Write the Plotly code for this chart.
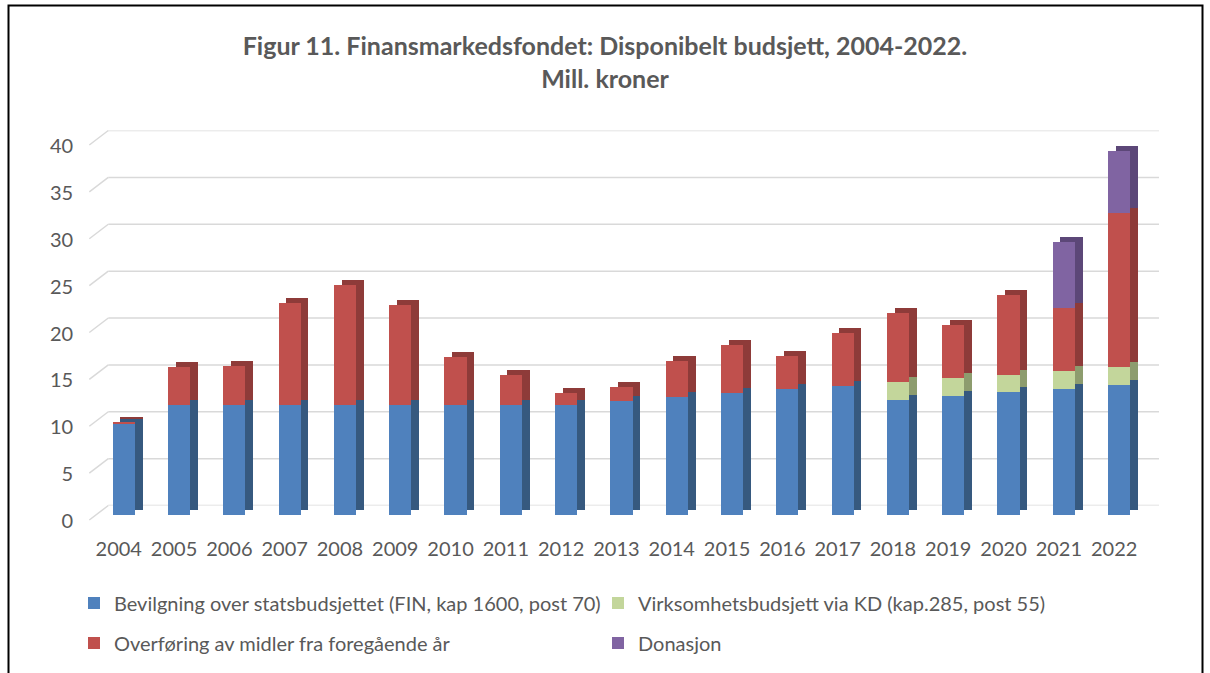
import plotly.graph_objects as go

# ---------------- data ----------------
years = ["2004", "2005", "2006", "2007", "2008", "2009", "2010", "2011", "2012", "2013",
         "2014", "2015", "2016", "2017", "2018", "2019", "2020", "2021", "2022"]

bevilgning = [9.8, 11.7, 11.7, 11.7, 11.7, 11.7, 11.7, 11.7, 11.7, 12.2,
              12.6, 13.0, 13.4, 13.8, 12.3, 12.7, 13.1, 13.4, 13.9]
virksomhet = [0, 0, 0, 0, 0, 0, 0, 0, 0, 0,
              0, 0, 0, 0, 1.9, 1.9, 1.85, 1.95, 1.9]
overforing = [0.15, 4.1, 4.2, 10.9, 12.8, 10.7, 5.2, 3.2, 1.3, 1.5,
              3.85, 5.1, 3.6, 5.6, 7.3, 5.7, 8.5, 6.75, 16.4]
donasjon = [0, 0, 0, 0, 0, 0, 0, 0, 0, 0,
            0, 0, 0, 0, 0, 0, 0, 7.0, 6.6]

names = ["Bevilgning over statsbudsjettet (FIN, kap 1600, post 70)",
         "Virksomhetsbudsjett via KD (kap.285, post 55)",
         "Overføring av midler fra foregående år",
         "Donasjon"]
y_ticks = [0, 5, 10, 15, 20, 25, 30, 35, 40]

# ---------------- style ----------------
front_colors = ["#4F81BD", "#C3D69B", "#C0504D", "#8064A2"]
side_colors = ["#36597F", "#8D9C6E", "#8E3B39", "#5C4778"]
legend_ids = ["legend", "legend", "legend2", "legend2"]

W, H = 1210, 673
FONT = "Lato"
TXT = "#595959"
GRID = "#D9D9D9"
PPU = 9.375          # pixels per unit (value)
YMAX = 40


def px_x(p):
    return p / W


def px_y(p):
    return (H - p) / H


def ydom(zero_px):
    return [px_y(zero_px), px_y(zero_px - YMAX * PPU)]


# geometry (pixels) of the pseudo-3D layers
WALL_X, WALL_Y0 = (108.3, 1159.0), 505.5
BACK_X, BACK_Y0 = (103.8, 1154.5), 510.0
FRONT_X, FRONT_Y0 = (96.1, 1146.8), 515.0
FLOOR_X, FLOOR_Y0 = 89.3, 520.0

fig = go.Figure()

series = [bevilgning, virksomhet, overforing, donasjon]

# back copies (side / top faces)
for vals, col in zip(series, side_colors):
    fig.add_trace(go.Bar(x=years, y=vals, xaxis="x2", yaxis="y2", width=0.4,
                         marker=dict(color=col, line=dict(width=0)),
                         showlegend=False, hoverinfo="skip"))
# front faces
for name, vals, col, lg in zip(names, series, front_colors, legend_ids):
    fig.add_trace(go.Bar(x=years, y=vals, xaxis="x3", yaxis="y3", width=0.4, name=name,
                         marker=dict(color=col, line=dict(width=0)), legend=lg))

# invisible trace so the wall axes exist
fig.add_trace(go.Scatter(x=[years[0]], y=[0], xaxis="x", yaxis="y", mode="markers",
                         marker=dict(opacity=0), showlegend=False, hoverinfo="skip"))

shapes = []
for v in y_ticks:
    # back-wall gridline
    shapes.append(dict(type="line", xref="x domain", yref="y", x0=0, x1=1, y0=v, y1=v,
                       line=dict(color=GRID, width=1.5), layer="below"))
    # diagonal floor / side connector
    shapes.append(dict(type="line", xref="paper", yref="paper",
                       x0=px_x(FLOOR_X), y0=px_y(FLOOR_Y0 - v * PPU),
                       x1=px_x(WALL_X[0]), y1=px_y(WALL_Y0 - v * PPU),
                       line=dict(color=GRID, width=1.5), layer="below"))
# outer frame
shapes.append(dict(type="rect", xref="paper", yref="paper",
                   x0=px_x(8.5), x1=px_x(1202.5), y0=-0.05, y1=px_y(5.5),
                   line=dict(color="black", width=2), fillcolor="rgba(0,0,0,0)"))

tickfont = dict(family=FONT, size=20, color=TXT)
common_x = dict(type="category", range=[-0.5, 18.5], showgrid=False, zeroline=False,
                showline=False, ticks="", fixedrange=True)
legfont = dict(family=FONT, size=20, color=TXT)

fig.update_layout(
    width=W, height=H,
    margin=dict(l=0, r=0, t=0, b=0, pad=0, autoexpand=False),
    paper_bgcolor="white",
    plot_bgcolor="rgba(0,0,0,0)",
    barmode="stack",
    title=dict(text="Figur 11. Finansmarkedsfondet: Disponibelt budsjett, 2004-2022.<br>Mill. kroner",
               x=0.5, xanchor="center", y=px_y(55), yanchor="middle", yref="container",
               font=dict(family=FONT, size=25, color=TXT, weight="bold")),
    xaxis=dict(**common_x, domain=[px_x(WALL_X[0]), px_x(WALL_X[1])], anchor="y",
               showticklabels=False),
    yaxis=dict(range=[0, YMAX], domain=ydom(WALL_Y0), anchor="x", showgrid=False,
               zeroline=False, showticklabels=False, fixedrange=True),
    xaxis2=dict(**common_x, domain=[px_x(BACK_X[0]), px_x(BACK_X[1])], anchor="y2",
                showticklabels=False),
    yaxis2=dict(range=[0, YMAX], domain=ydom(BACK_Y0), anchor="x2", showgrid=False,
                zeroline=False, showticklabels=False, fixedrange=True),
    xaxis3=dict(**common_x, domain=[px_x(FRONT_X[0]), px_x(FRONT_X[1])], anchor="y3",
                tickfont=tickfont, ticklabelstandoff=20, ticklabelshift=-5),
    yaxis3=dict(range=[0, YMAX], domain=ydom(FRONT_Y0), anchor="x3", showgrid=False,
                zeroline=False, tickvals=y_ticks, tickfont=tickfont, ticks="",
                ticklabelstandoff=22, ticklabelshift=6, fixedrange=True),
    legend=dict(orientation="h", x=px_x(74), xanchor="left", y=px_y(603), yanchor="middle",
                font=legfont, entrywidth=479, entrywidthmode="pixels",
                bgcolor="rgba(0,0,0,0)", traceorder="normal"),
    legend2=dict(orientation="h", x=px_x(74), xanchor="left", y=px_y(643), yanchor="middle",
                 font=legfont, entrywidth=479, entrywidthmode="pixels",
                 bgcolor="rgba(0,0,0,0)", traceorder="normal"),
    shapes=shapes,
)

fig.write_html("out.html", config={"displayModeBar": False, "staticPlot": False},
               post_script="document.body.style.margin='0';")
